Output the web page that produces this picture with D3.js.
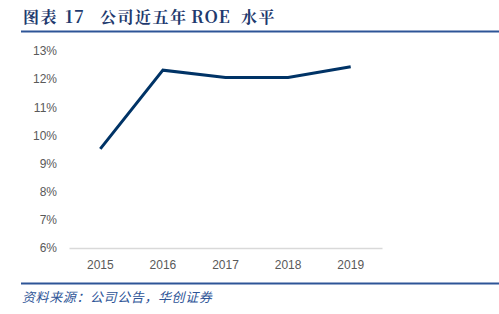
<!DOCTYPE html>
<html>
<head>
<meta charset="utf-8">
<script src="https://cdn.jsdelivr.net/npm/d3@7"></script>
<style>
  body { margin: 0; background: #fff; }
</style>
</head>
<body>
<div id="chart"></div>
<script>
var width = 499;
var height = 314;

// data
var years = ["2015", "2016", "2017", "2018", "2019"];
var roe = [9.52, 12.32, 12.06, 12.06, 12.44];
var yTicks = [6, 7, 8, 9, 10, 11, 12, 13];

var svg = d3.select("#chart")
    .append("svg")
    .attr("width", width)
    .attr("height", height);

// title pieces
var titleParts = [
  { t: "图表", x: 23 },
  { t: "17", x: 65 },
  { t: "公司近五年", x: 100 },
  { t: "ROE", x: 191 },
  { t: "水平", x: 241 }
];

svg.append("text")
    .attr("y", 23)
    .attr("font-family", "'Noto Serif CJK SC', 'Noto Sans CJK SC', serif")
    .attr("font-size", 16)
    .attr("font-weight", "bold")
    .attr("fill", "#1f3a6e")
  .selectAll("tspan")
  .data(titleParts)
  .enter().append("tspan")
    .attr("x", function(d) { return d.x; })
    .attr("font-size", function(d) { return /[A-Z0-9]/.test(d.t) ? 17 : 16; })
    .attr("letter-spacing", function(d) { return /[A-Z0-9]/.test(d.t) ? 1 : 1.5; })
    .text(function(d) { return d.t; });

svg.append("line")
    .attr("x1", 21).attr("x2", width)
    .attr("y1", 31.5).attr("y2", 31.5)
    .attr("stroke", "#2e5597")
    .attr("stroke-width", 2);

svg.append("line")
    .attr("x1", 21).attr("x2", width)
    .attr("y1", 283.5).attr("y2", 283.5)
    .attr("stroke", "#2e5597")
    .attr("stroke-width", 2);

svg.append("text")
    .attr("x", 22)
    .attr("y", 302)
    .attr("font-family", "'Noto Sans CJK SC', sans-serif")
    .attr("font-size", 13)
    .attr("letter-spacing", 0.6)
    .attr("font-style", "italic")
    .attr("fill", "#2e5597")
    .text("资料来源：公司公告，华创证券");

// scales
var x = d3.scaleBand()
    .domain(years)
    .range([69, 382]);

var y = d3.scaleLinear()
    .domain([6, 13])
    .range([248, 51]);

// y axis labels
var yAxis = d3.axisLeft(y)
    .tickValues(yTicks)
    .tickSize(0)
    .tickPadding(0)
    .tickFormat(function(d) { return d + "%"; });

var gy = svg.append("g")
    .attr("transform", "translate(57,0)")
    .call(yAxis);
gy.select(".domain").remove();
gy.selectAll("text")
    .attr("font-family", "'Liberation Sans', Arial, sans-serif")
    .attr("font-size", 12)
    .attr("fill", "#595959");

// x axis
var xAxis = d3.axisBottom(x)
    .tickSize(0)
    .tickPadding(12);

var gx = svg.append("g")
    .attr("transform", "translate(0," + y(6) + ")")
    .call(xAxis);
gx.select(".domain")
    .attr("stroke", "#d9d9d9")
    .attr("stroke-width", 1.5);
gx.selectAll("text")
    .attr("font-family", "'Liberation Sans', Arial, sans-serif")
    .attr("font-size", 12)
    .attr("fill", "#595959");

// line
var line = d3.line()
    .x(function(d, i) { return x(years[i]) + x.bandwidth() / 2; })
    .y(function(d) { return y(d); });

svg.append("path")
    .datum(roe)
    .attr("d", line)
    .attr("fill", "none")
    .attr("stroke", "#003366")
    .attr("stroke-width", 3);
</script>
</body>
</html>
